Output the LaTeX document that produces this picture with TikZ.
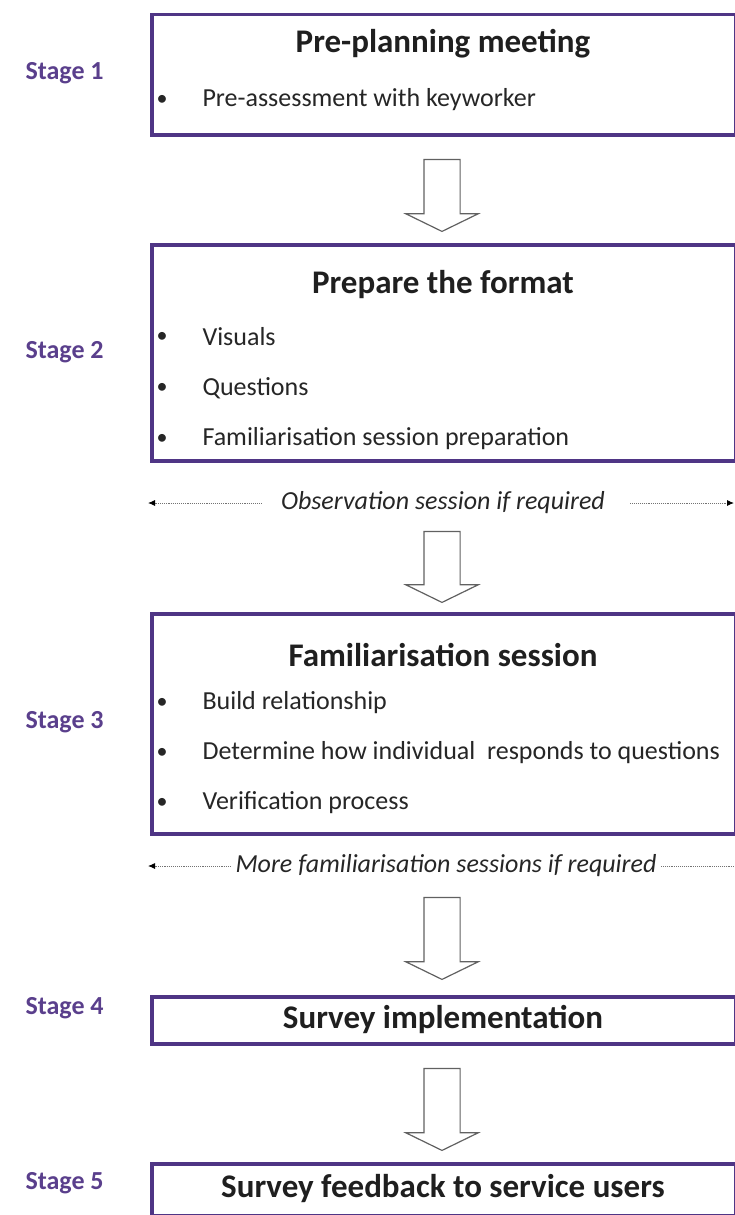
\documentclass[tikz,border=0pt]{standalone}
\usepackage{fontspec}
\setmainfont{Carlito}
\usepackage{tikz}
\usetikzlibrary{positioning,shapes.arrows,arrows.meta}
\definecolor{stagepurple}{HTML}{5A3F8C}
\definecolor{boxpurple}{HTML}{4F3585}
\tikzset{>=Latex}
\tikzset{
  stagebox/.style={draw=boxpurple, line width=3.5pt, fill=white, minimum width=584pt, anchor=north west, inner sep=0pt},
  stagelabel/.style={text=stagepurple, font=\fontsize{26}{30}\selectfont\bfseries, anchor=west},
  boxtitle/.style={font=\fontsize{33}{38}\selectfont\bfseries, text=black!88},
  item/.style={font=\fontsize{26}{30}\selectfont, text=black!85, anchor=west},
  bullet/.style={font=\fontsize{22}{26}\selectfont, text=black!85},
  note/.style={font=\fontsize{26}{30}\selectfont\itshape, text=black!85},
  blockarrow/.style={single arrow, draw=black!62, fill=white, line width=1.2pt, rotate=-90,
    inner xsep=0pt, inner ysep=17.5pt, single arrow head extend=18pt, single arrow tip angle=128},
  optional/.style={densely dotted, draw=black!55, line width=0.9pt, -{Latex[length=7pt,width=6pt,black]}}
}
\begin{document}
\begin{tikzpicture}[x=1pt,y=-1pt]
  \useasboundingbox (0,0) rectangle (735,1215);

  % Boxes
  \node[stagebox, minimum height=120pt] (box1) at (150,13) {};
  \node[stagebox, minimum height=216pt] (box2) at (150,243) {};
  \node[stagebox, minimum height=220pt] (box3) at (150,612) {};
  \node[stagebox, minimum height=47pt]  (box4) at (150,995) {};
  \node[stagebox, minimum height=52pt]  (box5) at (150,1162) {};

  % Stage labels
  \node[stagelabel] (stage1) at (22,73)   {Stage 1};
  \node[stagelabel] (stage2) at (22,352)  {Stage 2};
  \node[stagelabel] (stage3) at (22,722)  {Stage 3};
  \node[stagelabel] (stage4) at (22,1008) {Stage 4};
  \node[stagelabel] (stage5) at (22,1183) {Stage 5};

  % Titles
  \node[boxtitle] (title1) at (443,44)   {Pre-planning meeting};
  \node[boxtitle] (title2) at (443,285)  {Prepare the format};
  \node[boxtitle] (title3) at (443,655)  {Familiarisation session};
  \node[boxtitle] (title4) at (443,1019) {Survey implementation};
  \node[boxtitle] (title5) at (443,1189) {Survey feedback to service users};

  % Bullet items
  \foreach \y/\txt [count=\i] in {
      100/Pre-assessment with keyworker,
      337/Visuals,
      388/Questions,
      439/Familiarisation session preparation,
      703/Build relationship,
      753/Determine how individual\ \ responds to questions,
      803/Verification process} {
    \node[bullet] (dot\i) at (162,\y) {\textbullet};
    \node[item] (item\i) at (199,\y) {\txt};
  }

  % Block arrows
  \node[blockarrow, minimum height=72pt] (down1) at (442,191) {};
  \node[blockarrow, minimum height=71pt] (down2) at (442,562.5) {};
  \node[blockarrow, minimum height=82pt] (down3) at (442,934) {};
  \node[blockarrow, minimum height=82pt] (down4) at (442,1105) {};

  % Optional loops
  \node[note] (obs) at (443,503) {Observation session if required};
  \coordinate (obsL) at (148,503);
  \coordinate (obsR) at (734,503);
  \draw[optional] ([xshift=-16pt]obs.west) -- (obsL);
  \draw[optional] ([xshift=22pt]obs.east) -- (obsR);

  \node[note] (more) at (446,866) {More familiarisation sessions if required};
  \coordinate (moreL) at (148,866);
  \coordinate (moreR) at (735,866);
  \draw[optional] ([xshift=-1pt]more.west) -- (moreL);
  \draw[densely dotted, draw=black!55, line width=0.9pt] ([xshift=1pt]more.east) -- (moreR);

\end{tikzpicture}
\end{document}
